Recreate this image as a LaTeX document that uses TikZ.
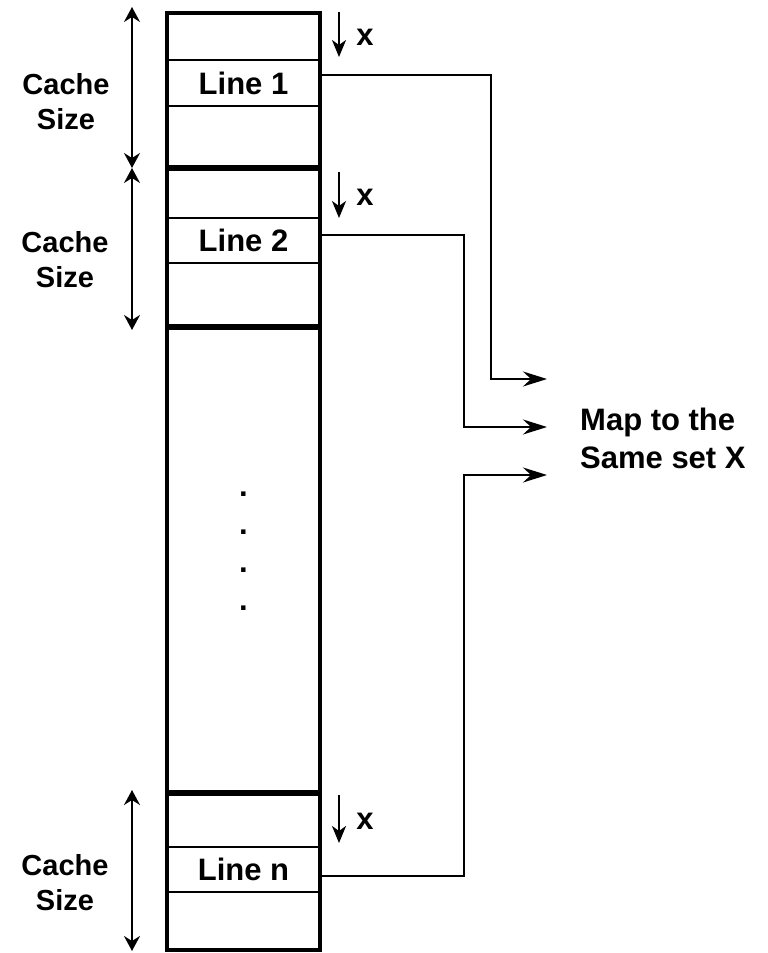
\documentclass[tikz,border=0pt]{standalone}
\usepackage{fontspec}
\setmainfont{Liberation Sans}
\usetikzlibrary{arrows.meta}

\tikzset{
  cell/.style={draw, line width=2pt, minimum width=153pt, inner sep=0pt, outer sep=0pt,
    font=\fontsize{31}{37}\selectfont\bfseries},
  sizelbl/.style={align=center, inner sep=0pt, font=\fontsize{29}{35}\selectfont\bfseries},
  offlbl/.style={inner sep=0pt, font=\fontsize{31}{35}\selectfont\bfseries},
  span/.style={line width=2pt,
    {Stealth[length=15pt,width=16pt,inset=5pt]}-{Stealth[length=15pt,width=16pt,inset=5pt]}},
  offset/.style={line width=2pt, -{Stealth[length=17pt,width=14pt,inset=5pt]}},
  link/.style={line width=2pt, -{Stealth[length=24pt,width=15pt,inset=8pt]}},
}

\begin{document}
\begin{tikzpicture}[x=1pt, y=-1pt]
  \useasboundingbox (0,0) rectangle (768,953);

  % Line cells
  \node[cell, minimum height=46pt] (line1) at (243.5,83) {Line 1};
  \node[cell, minimum height=45pt] (line2) at (243.5,240.5) {Line 2};
  \node[cell, minimum height=45pt] (linen) at (243.5,869.5) {Line n};

  % Column and block borders
  \draw[line width=4pt] (167,13) rectangle (320,950);
  \foreach \y in {168,327,793}
    \draw[line width=6pt] (167,\y) -- (320,\y);

  % Dots
  \foreach \i in {0,...,3}
    \node[cell, draw=none, minimum width=0pt, anchor=base] (dot\i) at (243.5,496+38.3*\i) {.};

  % Cache size spans
  \coordinate (s1a) at (132,7);   \coordinate (s1b) at (132,168);
  \coordinate (s2a) at (132,168); \coordinate (s2b) at (132,330);
  \coordinate (s3a) at (132,790); \coordinate (s3b) at (132,951);
  \draw[span] (s1a) -- (s1b);
  \draw[span] (s2a) -- (s2b);
  \draw[span] (s3a) -- (s3b);
  \node[sizelbl] (size1) at (66,102) {Cache\\Size};
  \node[sizelbl] (size2) at (65,260) {Cache\\Size};
  \node[sizelbl] (size3) at (65,883) {Cache\\Size};

  % Offset x in each block
  \coordinate (x1a) at (339,12);  \coordinate (x1b) at (339,57);
  \coordinate (x2a) at (339,172); \coordinate (x2b) at (339,218);
  \coordinate (x3a) at (339,795); \coordinate (x3b) at (339,843);
  \draw[offset] (x1a) -- (x1b);
  \draw[offset] (x2a) -- (x2b);
  \draw[offset] (x3a) -- (x3b);
  \node[offlbl] (x1) at (365,37) {x};
  \node[offlbl] (x2) at (365,197) {x};
  \node[offlbl] (x3) at (365,821) {x};

  % Mapping to the same set
  \node[align=left, anchor=west, inner sep=0pt, font=\fontsize{31}{38}\selectfont\bfseries]
    (mapto) at (580,438) {Map to the\\Same set X};
  \coordinate (m1) at (547,379);
  \coordinate (m2) at (547,427);
  \coordinate (m3) at (547,475);
  \draw[link] ([yshift=8pt]line1.east) -- ++(171,0) |- (m1);
  \draw[link] ([yshift=5.5pt]line2.east) -- ++(144,0) |- (m2);
  \draw[link] ([yshift=-6.5pt]linen.east) -- ++(144,0) |- (m3);

\end{tikzpicture}
\end{document}
